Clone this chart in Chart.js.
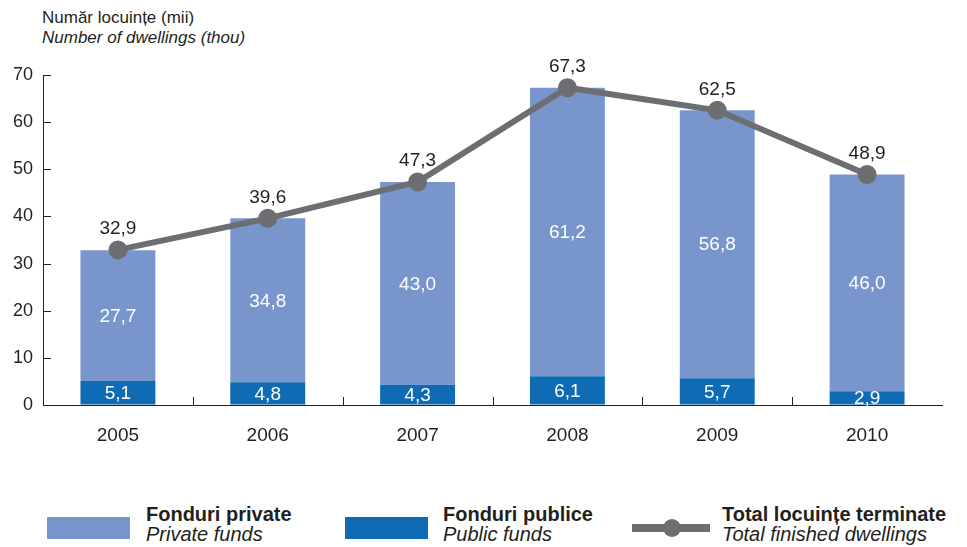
<!DOCTYPE html>
<html>
<head>
<meta charset="utf-8">
<script src="https://cdn.jsdelivr.net/npm/chart.js@4/dist/chart.umd.min.js"></script>
<style>
  body { margin: 0; width: 967px; height: 547px; background: #fff; font-family: "Liberation Sans", Arial, sans-serif; color: #231f20; position: relative; overflow: hidden; }
  #title { position: absolute; left: 42px; top: 8px; font-size: 17px; line-height: 20px; }
  #title i { display: block; }
  #wrap { position: absolute; left: 0; top: 0; width: 967px; height: 460px; }
  .leg { position: absolute; top: 504px; font-size: 20px; line-height: 20px; }
  .leg b { display: block; }
  .sw { position: absolute; top: 517px; width: 83px; height: 22px; }
</style>
</head>
<body>
<div id="title">Număr locuințe (mii)<i>Number of dwellings (thou)</i></div>
<div id="wrap"><canvas id="chart"></canvas></div>

<div class="sw" style="left:47px; background:#7896cc"></div>
<div class="leg" style="left:146px"><b>Fonduri private</b><i>Private funds</i></div>
<div class="sw" style="left:345px; background:#0f6bb4"></div>
<div class="leg" style="left:443px"><b>Fonduri publice</b><i>Public funds</i></div>
<svg style="position:absolute; left:632px; top:514px" width="80" height="28">
  <line x1="0" y1="14" x2="78" y2="14" stroke="#6d6e71" stroke-width="8"/>
  <circle cx="40" cy="14" r="9" fill="#6d6e71"/>
</svg>
<div class="leg" style="left:722px"><b>Total locuințe terminate</b><i>Total finished dwellings</i></div>

<script>
// ---- data ----
const years = ["2005", "2006", "2007", "2008", "2009", "2010"];
const publicFunds = [5.1, 4.8, 4.3, 6.1, 5.7, 2.9];
const privateFunds = [27.7, 34.8, 43.0, 61.2, 56.8, 46.0];
const totalDwellings = [32.9, 39.6, 47.3, 67.3, 62.5, 48.9];
const yTicks = [0, 10, 20, 30, 40, 50, 60, 70];

const FONT = "'Liberation Sans', Arial, sans-serif";
const fmt = v => v.toFixed(1).replace(".", ",");

// numbers on the bars and above the line
const valueLabels = {
  id: "valueLabels",
  afterDatasetsDraw(chart) {
    const ctx = chart.ctx;
    ctx.save();
    ctx.textAlign = "center";
    ctx.textBaseline = "middle";
    ctx.font = "19px " + FONT;
    chart.data.datasets.forEach((ds, i) => {
      const meta = chart.getDatasetMeta(i);
      meta.data.forEach((el, j) => {
        const v = ds.data[j];
        if (ds.type === "line") {
          ctx.fillStyle = "#231f20";
          ctx.fillText(fmt(v), el.x, el.y - 21);
        } else {
          ctx.fillStyle = "#ffffff";
          ctx.fillText(fmt(v), el.x, (el.y + el.base) / 2 + 1);
        }
      });
    });
    ctx.restore();
  }
};

// tick marks pointing into the plot, like the original
const innerTicks = {
  id: "innerTicks",
  beforeDatasetsDraw(chart) {
    const { ctx, chartArea, scales } = chart;
    ctx.save();
    ctx.strokeStyle = "#231f20";
    ctx.lineWidth = 1;
    ctx.beginPath();
    yTicks.forEach(v => {
      const y = Math.round(scales.y.getPixelForValue(v)) + 0.5;
      ctx.moveTo(chartArea.left, y);
      ctx.lineTo(chartArea.left + 8, y);
    });
    for (let i = 0; i < years.length - 1; i++) {
      const x = Math.round((scales.x.getPixelForValue(i) + scales.x.getPixelForValue(i + 1)) / 2) + 0.5;
      ctx.moveTo(x, chartArea.bottom);
      ctx.lineTo(x, chartArea.bottom - 8);
    }
    ctx.stroke();
    ctx.restore();
  }
};

new Chart(document.getElementById("chart"), {
  data: {
    labels: years,
    datasets: [
      {
        type: "line",
        label: "Total locuințe terminate",
        data: totalDwellings,
        borderColor: "#6d6e71",
        backgroundColor: "#6d6e71",
        borderWidth: 6,
        pointRadius: 6.5,
        pointHoverRadius: 6.5,
        tension: 0,
        order: 0
      },
      {
        type: "bar",
        label: "Fonduri publice",
        data: publicFunds,
        backgroundColor: "#0f6bb4",
        categoryPercentage: 1,
        barPercentage: 0.5,
        stack: "s",
        order: 1
      },
      {
        type: "bar",
        label: "Fonduri private",
        data: privateFunds,
        backgroundColor: "#7896cc",
        categoryPercentage: 1,
        barPercentage: 0.5,
        stack: "s",
        order: 1
      }
    ]
  },
  options: {
    responsive: true,
    maintainAspectRatio: false,
    animation: false,
    layout: { padding: { top: 75, right: 25, left: 0, bottom: 0 } },
    plugins: { legend: { display: false }, tooltip: { enabled: false } },
    scales: {
      x: {
        stacked: true,
        afterFit: axis => { axis.height = 55; },
        grid: { display: false },
        border: { color: "#231f20", width: 1 },
        ticks: { color: "#231f20", font: { size: 19, family: FONT }, padding: 11 }
      },
      y: {
        stacked: true,
        min: 0,
        max: 70,
        afterBuildTicks: axis => { axis.ticks = yTicks.map(v => ({ value: v })); },
        afterFit: axis => { axis.width = 43; },
        grid: { drawOnChartArea: false, drawTicks: false },
        border: { color: "#231f20", width: 1 },
        ticks: { color: "#231f20", font: { size: 18, family: FONT }, padding: 10 }
      }
    }
  },
  plugins: [valueLabels, innerTicks]
});
</script>
</body>
</html>
